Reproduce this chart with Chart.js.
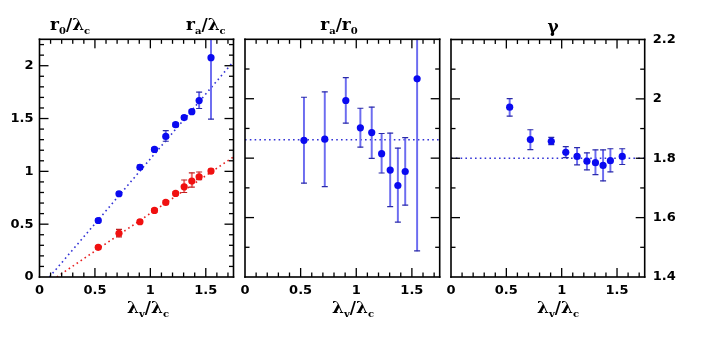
<!DOCTYPE html>
<html>
<head>
<meta charset="utf-8">
<script src="https://cdn.jsdelivr.net/npm/chart.js@4/dist/chart.umd.min.js"></script>
<style>
  html, body { margin: 0; padding: 0; background: #fff; }
  #wrap { position: relative; width: 706px; height: 344px; overflow: hidden; }
  canvas { position: absolute; left: 0; top: 0; }
  .lbl { position: absolute; font-family: "DejaVu Serif", "Liberation Serif", serif; font-weight: bold; font-size: 17px; line-height: 17px; color: #000; white-space: nowrap; }
  .lbl sub { font-size: 10px; vertical-align: -4px; line-height: 0; }
  .c { transform: translateX(-50%); }
</style>
</head>
<body>
<div id="wrap">
  <canvas id="cA" width="706" height="344"></canvas>
  <canvas id="cB" width="706" height="344"></canvas>
  <canvas id="cC" width="706" height="344"></canvas>
  <div class="lbl" style="left:50px; top:16px;">r<sub>0</sub>/λ<sub>c</sub></div>
  <div class="lbl" style="left:186px; top:16px;">r<sub>a</sub>/λ<sub>c</sub></div>
  <div class="lbl c" style="left:339px; top:16px;">r<sub>a</sub>/r<sub>0</sub></div>
  <div class="lbl c" style="left:553px; top:18px;">γ</div>
  <div class="lbl c" style="left:148px; top:299px;">λ<sub>v</sub>/λ<sub>c</sub></div>
  <div class="lbl c" style="left:353px; top:299px;">λ<sub>v</sub>/λ<sub>c</sub></div>
  <div class="lbl c" style="left:558px; top:299px;">λ<sub>v</sub>/λ<sub>c</sub></div>
</div>
<script>
// ---------------- data ----------------
const lambdaV = [0.53, 0.717, 0.906, 1.037, 1.139, 1.228, 1.305, 1.374, 1.44, 1.547];

// left panel: r_a/lambda_c (blue) and r_0/lambda_c (red)
const raVals  = [0.535, 0.788, 1.039, 1.208, 1.331, 1.442, 1.509, 1.565, 1.670, 2.076];
const raLow   = [0.520, 0.773, 1.019, 1.193, 1.285, 1.425, 1.492, 1.548, 1.595, 1.494];
const raHigh  = [0.550, 0.803, 1.059, 1.223, 1.385, 1.459, 1.526, 1.582, 1.750, 2.660];
const r0Vals  = [0.281, 0.414, 0.523, 0.630, 0.706, 0.791, 0.854, 0.908, 0.949, 1.003];
const r0Low   = [0.266, 0.380, 0.508, 0.615, 0.691, 0.776, 0.800, 0.851, 0.921, 0.985];
const r0High  = [0.296, 0.450, 0.538, 0.645, 0.721, 0.806, 0.918, 0.985, 0.994, 1.021];
const raFitX  = [0.09, 1.75];
const raFitY  = [0.0, 2.04];
const r0FitX  = [0.156, 1.75];
const r0FitY  = [0.0, 1.137];

// middle panel: r_a/r_0
const ratioVals = [1.860, 1.864, 1.994, 1.902, 1.886, 1.815, 1.760, 1.708, 1.755, 2.067];
const ratioLow  = [1.716, 1.704, 1.918, 1.837, 1.799, 1.750, 1.637, 1.585, 1.642, 1.488];
const ratioHigh = [2.005, 2.023, 2.071, 1.968, 1.972, 1.883, 1.884, 1.834, 1.869, 2.650];
const ratioFit  = 1.862;

// right panel: gamma
const gammaVals = [1.972, 1.863, 1.857, 1.820, 1.806, 1.790, 1.785, 1.776, 1.792, 1.806];
const gammaLow  = [1.942, 1.829, 1.846, 1.802, 1.778, 1.761, 1.745, 1.724, 1.754, 1.779];
const gammaHigh = [2.001, 1.896, 1.870, 1.839, 1.836, 1.818, 1.828, 1.828, 1.832, 1.832];
const gammaFit  = 1.8;

// ticks
const xTickVals   = [0, 0.5, 1, 1.5];
const xTickLabels = ['0', '0.5', '1', '1.5'];
const xMajor = [0.5, 1, 1.5];
const xMinor = [0.1, 0.2, 0.3, 0.4, 0.6, 0.7, 0.8, 0.9, 1.1, 1.2, 1.3, 1.4, 1.6, 1.7];
const yTickValsA   = [0, 0.5, 1, 1.5, 2];
const yTickLabelsA = ['0', '0.5', '1', '1.5', '2'];
const yMajorA = [0.5, 1, 1.5, 2];
const yMinorA = [0.1, 0.2, 0.3, 0.4, 0.6, 0.7, 0.8, 0.9, 1.1, 1.2, 1.3, 1.4, 1.6, 1.7, 1.8, 1.9, 2.1, 2.2];
const yTickValsG   = [1.4, 1.6, 1.8, 2.0, 2.2];
const yTickLabelsG = ['1.4', '1.6', '1.8', '2', '2.2'];
const yMajorG = [1.6, 1.8, 2.0];
const yMinorG = [1.5, 1.7, 1.9, 2.1];

// ---------------- styles ----------------
const BLUE = '#0a0af0', BLUE_ERR = '#6c6cf0', BLUE_CAP = '#2a2aa8', BLUE_FIT = '#3333d6';
const RED = '#f01010', RED_ERR = '#f06c6c', RED_CAP = '#c02020', RED_FIT = '#e82020';
const TICK_FONT = { family: '"DejaVu Sans", "Liberation Sans", sans-serif', size: 13, weight: 'bold' };

// ---------------- helpers ----------------
function pts(xs, ys) { return xs.map((x, i) => ({ x: x, y: ys[i] })); }

function seriesDatasets(vals, low, high, col, errCol, capCol) {
  return [
    { type: 'scatter', data: pts(lambdaV, vals), backgroundColor: col, borderColor: col,
      pointRadius: 3.6, pointBorderWidth: 0, order: 0 },
    { type: 'scatter', data: pts(lambdaV, low).concat(pts(lambdaV, high)), pointStyle: 'line',
      pointRadius: 3, borderColor: capCol, pointBorderWidth: 1.2, order: 1 },
    { type: 'bar', data: lambdaV.map((x, i) => ({ x: x, y: [low[i], high[i]] })),
      backgroundColor: errCol, borderWidth: 0, barThickness: 1.3, grouped: false, order: 2 }
  ];
}

function fitDataset(xs, ys, col) {
  return { type: 'line', data: pts(xs, ys), borderColor: col, borderWidth: 1.6,
    borderDash: [1.6, 3.2], pointRadius: 0, fill: false, order: 3 };
}

function tickPlugin(cfg) {
  return {
    id: 'innerTicks',
    afterDraw(chart) {
      const ctx = chart.ctx, a = chart.chartArea;
      const xs = chart.scales.x, ys = chart.scales.y;
      const W = 1.3;
      ctx.save();
      ctx.setLineDash([]);
      ctx.globalAlpha = 1;
      ctx.fillStyle = '#000';
      cfg.xMajor.concat(cfg.xMinor).forEach(v => {
        const len = cfg.xMajor.indexOf(v) >= 0 ? 9 : 4.5;
        const p = xs.getPixelForValue(v) - W / 2;
        ctx.fillRect(p, a.bottom - len, W, len);
        ctx.fillRect(p, a.top, W, len);
      });
      cfg.yMajor.concat(cfg.yMinor).forEach(v => {
        const len = cfg.yMajor.indexOf(v) >= 0 ? 9 : 4.5;
        const p = ys.getPixelForValue(v) - W / 2;
        ctx.fillRect(a.left, p, len, W);
        ctx.fillRect(a.right - len, p, len, W);
      });
      const F = 1.6;
      ctx.fillRect(a.left - F / 2, a.top - F / 2, a.right - a.left + F, F);
      ctx.fillRect(a.left - F / 2, a.bottom - F / 2, a.right - a.left + F, F);
      ctx.fillRect(a.left - F / 2, a.top - F / 2, F, a.bottom - a.top + F);
      ctx.fillRect(a.right - F / 2, a.top - F / 2, F, a.bottom - a.top + F);
      ctx.restore();
    }
  };
}

function xScale() {
  return {
    type: 'linear', min: 0, max: 1.75, offset: false,
    grid: { display: false, drawTicks: false }, border: { display: false },
    afterBuildTicks: s => { s.ticks = xTickVals.map(v => ({ value: v })); },
    afterFit: s => { s.height = 67; },
    ticks: { font: TICK_FONT, color: '#000', padding: 6, maxRotation: 0, autoSkip: false,
      callback: (v, i) => xTickLabels[i] }
  };
}

function makeChart(id, datasets, yCfg, padding, tickCfg) {
  return new Chart(document.getElementById(id), {
    type: 'scatter',
    data: { datasets: datasets },
    plugins: [tickPlugin(tickCfg)],
    options: {
      responsive: false, animation: false, events: [],
      layout: { padding: padding },
      scales: { x: xScale(), y: yCfg },
      plugins: { legend: { display: false }, tooltip: { enabled: false } }
    }
  });
}

// ---------------- left panel ----------------
makeChart('cA',
  [].concat(
    seriesDatasets(raVals, raLow, raHigh, BLUE, BLUE_ERR, BLUE_CAP),
    seriesDatasets(r0Vals, r0Low, r0High, RED, RED_ERR, RED_CAP),
    [fitDataset(raFitX, raFitY, BLUE_FIT), fitDataset(r0FitX, r0FitY, RED_FIT)]
  ),
  {
    type: 'linear', min: 0, max: 2.25,
    grid: { display: false, drawTicks: false }, border: { display: false },
    afterBuildTicks: s => { s.ticks = yTickValsA.map(v => ({ value: v })); },
    afterFit: s => { s.width = 39.5; },
    ticks: { font: TICK_FONT, color: '#000', padding: 6, autoSkip: false,
      callback: (v, i) => yTickLabelsA[i] }
  },
  { top: 39.3, left: 0, right: 706 - 233.5, bottom: 0 },
  { xMajor: xMajor, xMinor: xMinor, yMajor: yMajorA, yMinor: yMinorA }
);

// ---------------- middle panel ----------------
makeChart('cB',
  [].concat(
    seriesDatasets(ratioVals, ratioLow, ratioHigh, BLUE, BLUE_ERR, BLUE_CAP),
    [fitDataset([0, 1.75], [ratioFit, ratioFit], BLUE_FIT)]
  ),
  { type: 'linear', min: 1.4, max: 2.2, display: false },
  { top: 39.3, left: 245, right: 706 - 439.7, bottom: 0 },
  { xMajor: xMajor, xMinor: xMinor, yMajor: yMajorG, yMinor: yMinorG }
);

// ---------------- right panel ----------------
makeChart('cC',
  [].concat(
    seriesDatasets(gammaVals, gammaLow, gammaHigh, BLUE, BLUE_ERR, BLUE_CAP),
    [fitDataset([0, 1.75], [gammaFit, gammaFit], BLUE_FIT)]
  ),
  {
    type: 'linear', position: 'right', min: 1.4, max: 2.2,
    grid: { display: false, drawTicks: false }, border: { display: false },
    afterBuildTicks: s => { s.ticks = yTickValsG.map(v => ({ value: v })); },
    afterFit: s => { s.width = 706 - 644.7; },
    ticks: { font: TICK_FONT, color: '#000', padding: 8, autoSkip: false,
      callback: (v, i) => yTickLabelsG[i] }
  },
  { top: 39.5, left: 451, right: 0, bottom: 0 },
  { xMajor: xMajor, xMinor: xMinor, yMajor: yMajorG, yMinor: yMinorG }
);
</script>
</body>
</html>
